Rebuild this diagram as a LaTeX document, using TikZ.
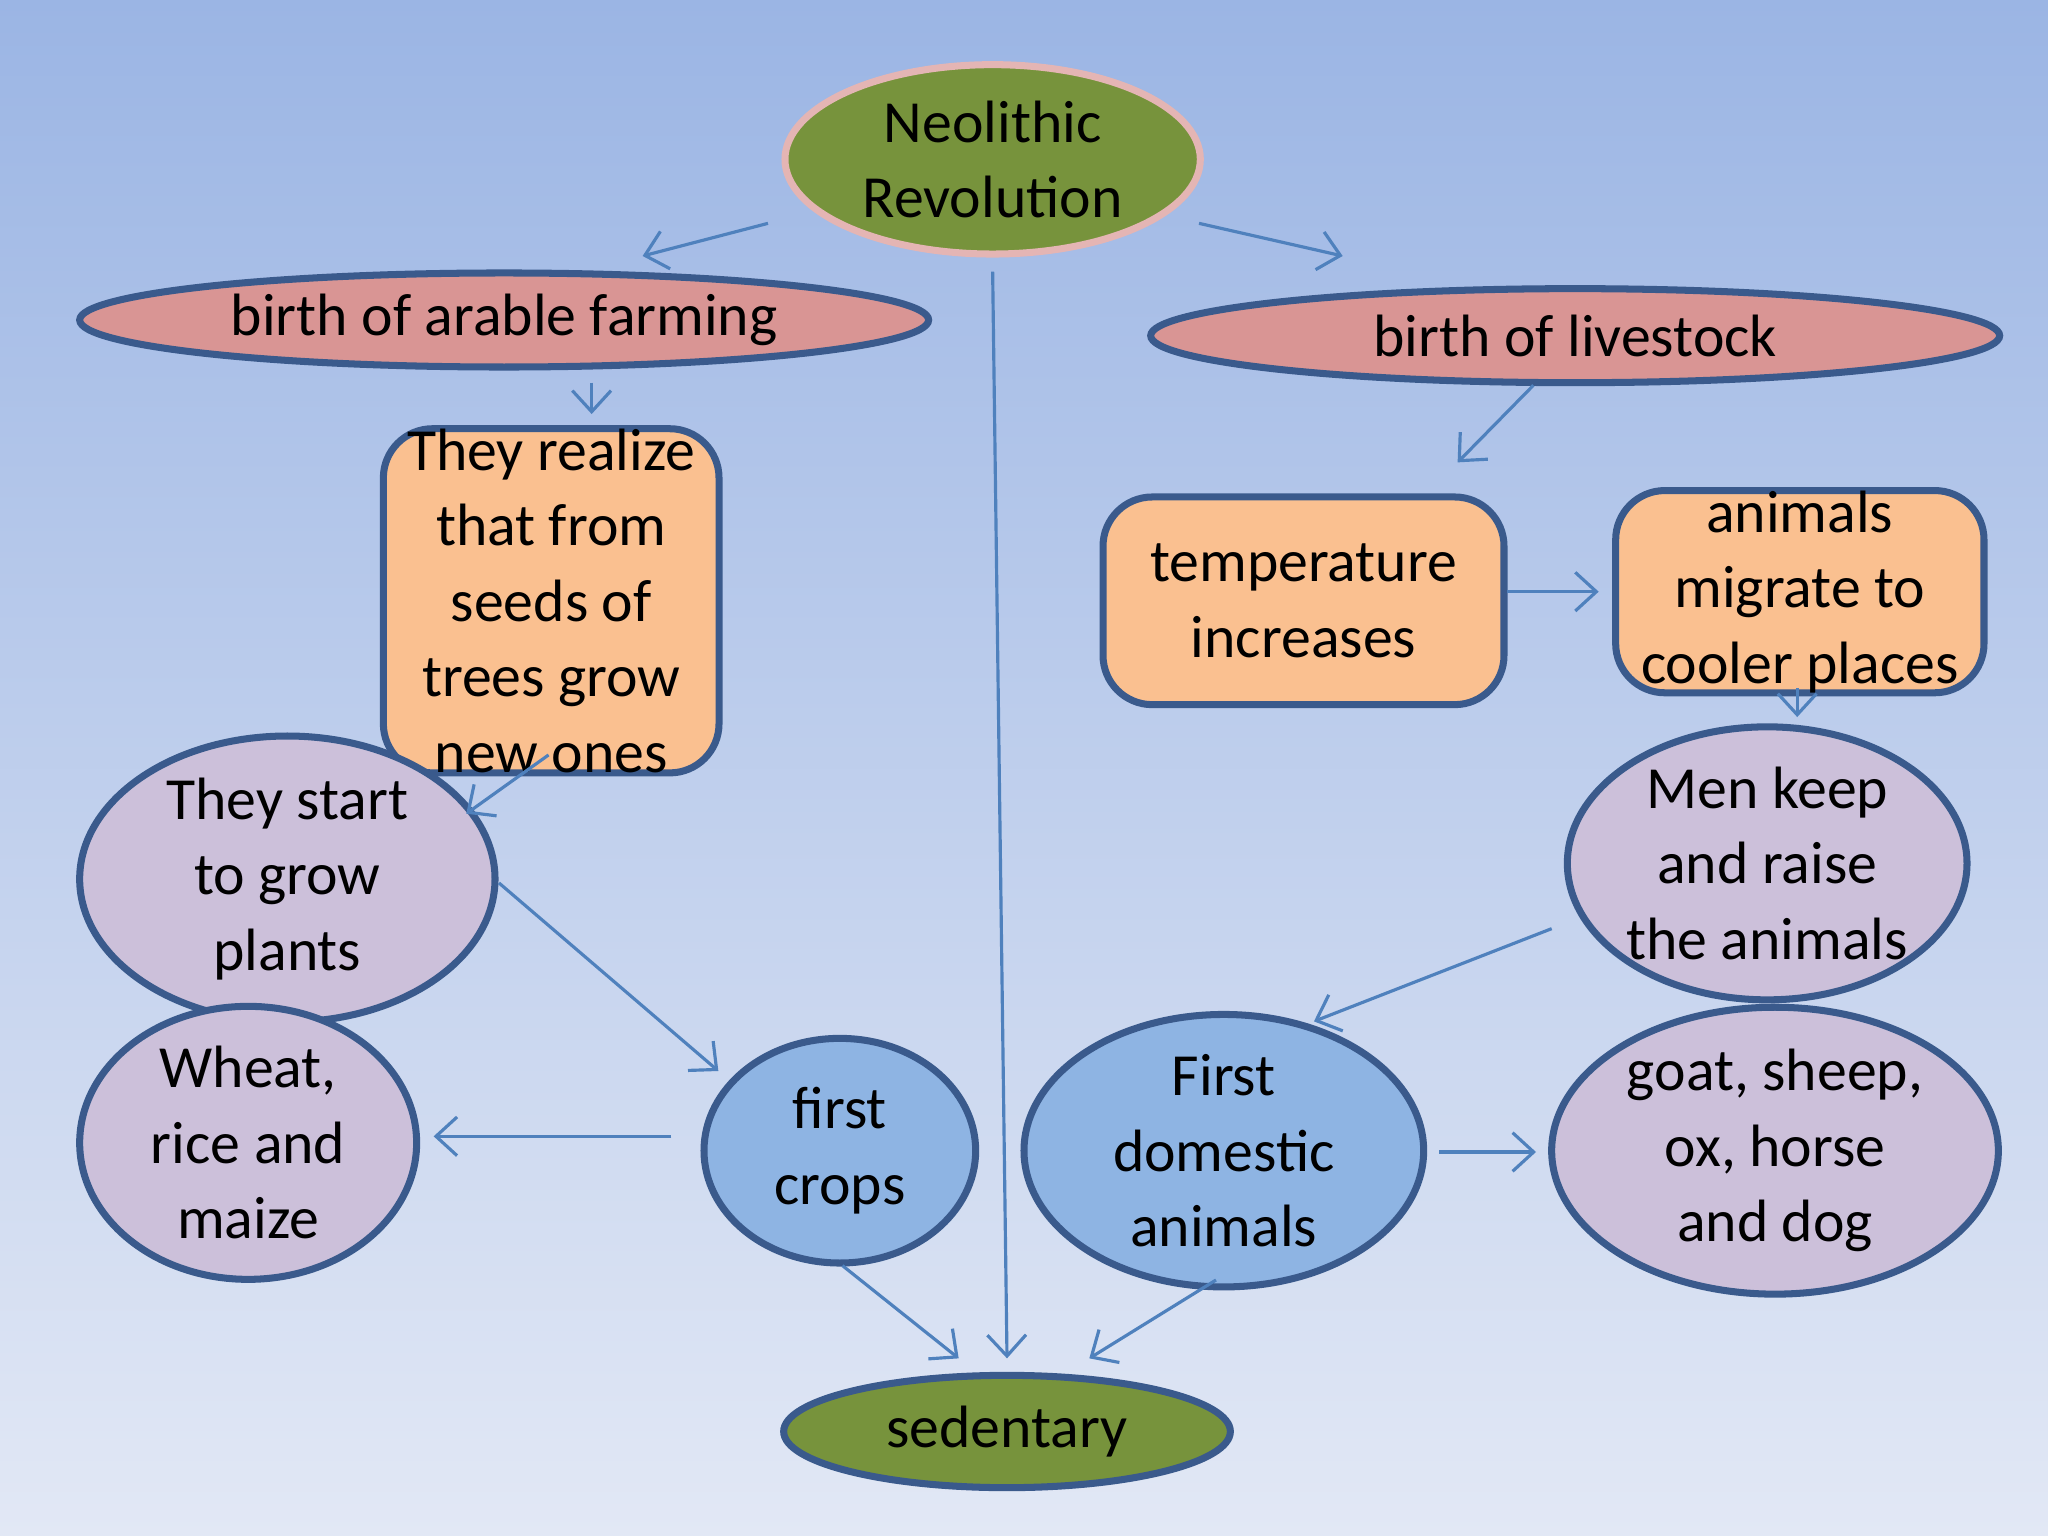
\documentclass[tikz,border=0pt]{standalone}
\usepackage{fontspec}
\setmainfont{Carlito}
\usetikzlibrary{shapes.geometric,arrows.meta}
\definecolor{bgtop}{HTML}{9BB5E4}
\definecolor{bgbot}{HTML}{E2E8F5}
\definecolor{grn}{HTML}{77933C}
\definecolor{pnk}{HTML}{D99594}
\definecolor{org}{HTML}{FAC090}
\definecolor{lil}{HTML}{CCC0DA}
\definecolor{blu}{HTML}{8EB4E3}
\definecolor{edge}{HTML}{3A5A8C}
\definecolor{arr}{HTML}{4F81BD}
\tikzset{
  ell/.style={ellipse, draw=edge, line width=2pt, inner sep=0pt, align=center, font=\fontsize{17}{21.5}\selectfont},
  rbox/.style={rectangle, rounded corners=14pt, draw=edge, line width=2pt, fill=org, inner sep=0pt, align=center, font=\fontsize{17}{21.5}\selectfont},
  conn/.style={draw=arr, line width=0.9pt, -{Straight Barb[length=6pt,width=11pt]}}
}
\begin{document}
\begin{tikzpicture}[x=0.013061cm,y=-0.013061cm]
\shade[top color=bgtop,bottom color=bgbot] (0,0) rectangle (1568,1176);
\useasboundingbox (0,0) rectangle (1568,1176);
\node[ell, fill=grn, draw=pnk!70, minimum width=318*0.013061cm, minimum height=145*0.013061cm] (neo) at (760,122) {Neolithic\\Revolution};
\node[ell, fill=pnk, minimum width=650*0.013061cm, minimum height=72*0.013061cm] (arable) at (386,245) {birth of arable farming};
\node[ell, fill=pnk, minimum width=650*0.013061cm, minimum height=72*0.013061cm] (live) at (1206,257) {birth of livestock};
\node[rbox, minimum width=257*0.013061cm, minimum height=233*0.013061cm] (real) at (422,460) {They realize\\that from\\seeds of\\trees grow\\new ones};
\node[rbox, minimum width=307*0.013061cm, minimum height=159*0.013061cm] (temp) at (998,460) {temperature\\increases};
\node[rbox, minimum width=282*0.013061cm, minimum height=148*0.013061cm] (mig) at (1378,453) {animals\\migrate to\\cooler places};
\node[ell, fill=lil, minimum width=318*0.013061cm, minimum height=148*0.013061cm] (start) at (220,673) {They start\\to grow\\plants};
\node[ell, fill=lil, minimum width=306*0.013061cm, minimum height=196*0.013061cm] (men) at (1353,661) {Men keep\\and raise\\the animals};
\node[ell, fill=lil, minimum width=258*0.013061cm, minimum height=208*0.013061cm] (wheat) at (190,875) {Wheat,\\rice and\\maize};
\node[ell, fill=blu, minimum width=208*0.013061cm, minimum height=172*0.013061cm] (crops) at (643,881) {first\\crops};
\node[ell, fill=blu, minimum width=306*0.013061cm, minimum height=172*0.013061cm] (dom) at (937,881) {First\\domestic\\animals};
\node[ell, fill=lil, minimum width=342*0.013061cm, minimum height=172*0.013061cm] (goat) at (1359,881) {goat, sheep,\\ox, horse\\and dog};
\node[ell, fill=grn, minimum width=342*0.013061cm, minimum height=86*0.013061cm] (sed) at (771,1096) {sedentary};
\foreach \n/\a/\b in {c1/588/171,c2/492/196,c3/918/171,c4/1028/196,c5/760/208,c6/771/1040,
  c7/453/293,c8/453/317,c9/1174/295,c10/1116/354,c11/1154/453,c12/1224/453,c13/1376/527,c14/1376/549,
  c15/420/578,c16/357/623,c17/382/676,c18/550/820,c19/514/870,c20/332/870,c21/1188/711,c22/1006/782,
  c23/1102/882,c24/1176/882,c25/645/969,c26/734/1040,c27/931/980,c28/834/1040}
  {\coordinate (\n) at (\a,\b);}
\foreach \s/\t in {c1/c2,c3/c4,c5/c6,c7/c8,c9/c10,c11/c12,c13/c14,c15/c16,c17/c18,c19/c20,c21/c22,c23/c24,c25/c26,c27/c28}
  {\draw[conn] (\s) -- (\t);}
\end{tikzpicture}
\end{document}
